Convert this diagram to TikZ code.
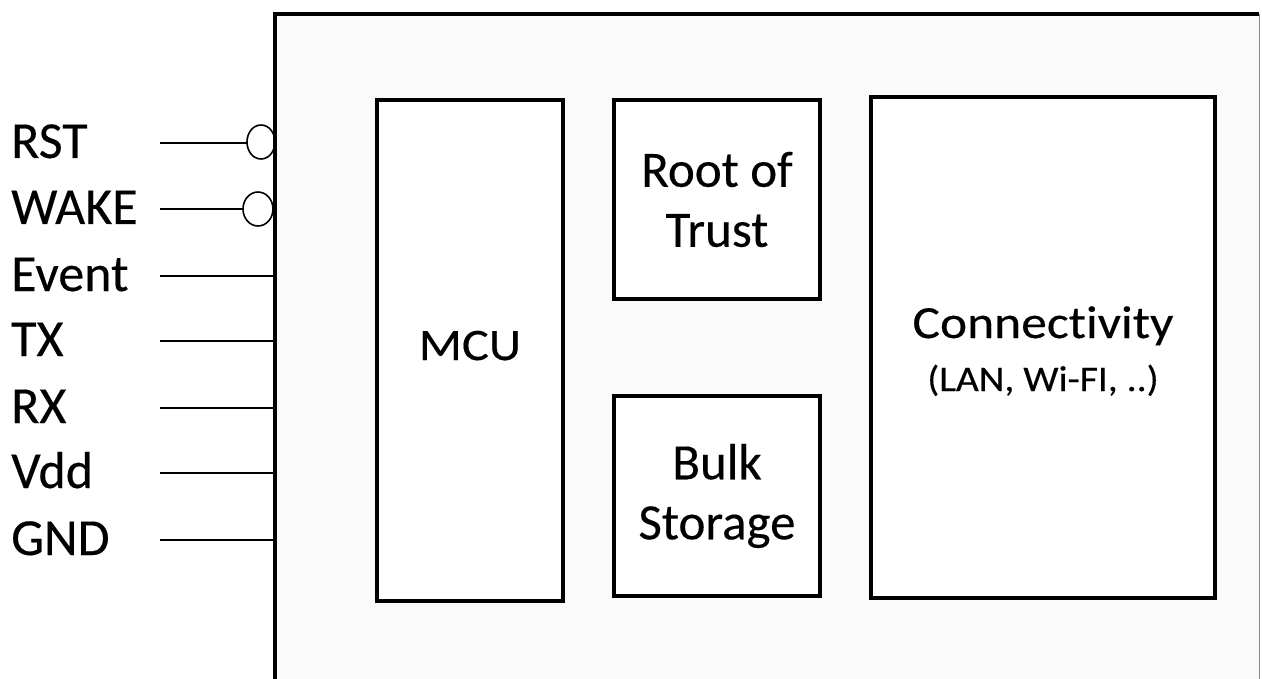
\documentclass[tikz,border=0pt]{standalone}
\usepackage{graphicx}
\usepackage{fontspec}
\setmainfont[Ligatures=NoCommon,FakeBold=0.3]{Carlito}
\begin{document}
\begin{tikzpicture}[x=1pt,y=-1pt,
  block/.style={draw=black,line width=4pt,fill=white,inner sep=0pt,align=center,
    font=\fontsize{51}{60}\selectfont},
  blocktext/.style={anchor=base,inner sep=0pt},
  pinlabel/.style={anchor=base west,inner sep=0pt,font=\fontsize{52}{54}\selectfont},
  pinwire/.style={line width=2pt},
  bubble/.style={draw=black,line width=1.6pt,fill=white}]
  \useasboundingbox (0,0) rectangle (1262,679);
  % device body (runs past the bottom of the page)
  \fill[black!2] (275,14) rectangle (1259,690);
  \draw[black!45,line width=1pt] (1259,14) -- (1259,690);
  % active-low pins
  \draw[bubble] (261,142) ellipse [x radius=14,y radius=17];
  \draw[bubble] (258,209) ellipse [x radius=15,y radius=17];
  \draw[line width=4pt] (275,690) -- (275,14) -- (1259,14);
  % internal blocks
  \node[block,minimum width=186,minimum height=501] (mcu) at (470,350.5) {};
  \node[blocktext,font=\fontsize{45}{50}\selectfont] (mcut) at (470,360) {\scalebox{1.12}[1]{MCU}};
  \node[block,minimum width=206,minimum height=199] (rot) at (717,199.5) {Root of\\Trust};
  \node[block,minimum width=206,minimum height=200] (bulk) at (717,496) {Bulk\\Storage};
  \node[block,minimum width=344,minimum height=501] (conn) at (1043,347.5) {};
  \node[blocktext,font=\fontsize{46}{50}\selectfont] (connt) at (1043,338) {\scalebox{1.12}[1]{Connectivity}};
  \node[blocktext,font=\fontsize{36}{40}\selectfont] (conns) at (1043,391) {\scalebox{1.1}[1]{(LAN, Wi-FI, ..)}};
  % pins
  \foreach \name/\txt/\yy/\xe in {rst/RST/143/247, wake/WAKE/209/243, ev/Event/276/275,
      tx/TX/341/275, rx/RX/408/275, vdd/Vdd/473/275, gnd/GND/540/275}{
    \node[pinlabel] (\name) at (11,\yy+15) {\txt};
    \coordinate (\name-a) at (160,\yy);
    \coordinate (\name-b) at (\xe,\yy);
    \draw[pinwire] (\name-a) -- (\name-b);
  }
\end{tikzpicture}
\end{document}
